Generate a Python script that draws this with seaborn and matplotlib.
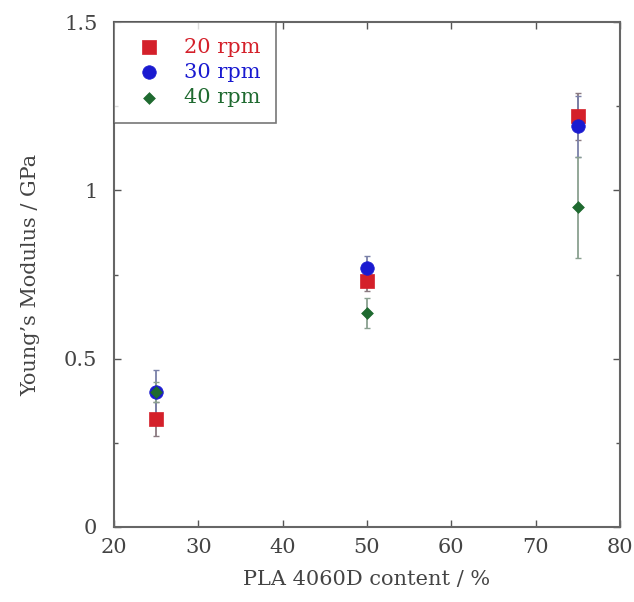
import matplotlib
matplotlib.use("Agg")
import matplotlib.pyplot as plt
import seaborn as sns
import pandas as pd
from matplotlib.ticker import MultipleLocator

sns.set_theme(style="white")
plt.rcParams["font.family"] = ["DejaVu Serif", "Liberation Serif"]

content = [25, 50, 75]
series = ["20 rpm", "30 rpm", "40 rpm"]
modulus_20 = [0.32, 0.73, 1.22]
err_20 = [0.05, 0.03, 0.07]
modulus_30 = [0.40, 0.77, 1.19]
err_30 = [0.065, 0.035, 0.09]
modulus_40 = [0.40, 0.635, 0.95]
err_40 = [0.03, 0.045, 0.15]

colors = {"20 rpm": "#d4202a", "30 rpm": "#1a1ad0", "40 rpm": "#1f6a30"}
err_colors = {"20 rpm": "#8a7a80", "30 rpm": "#7a80a8", "40 rpm": "#8aa090"}
markers = {"20 rpm": "s", "30 rpm": "o", "40 rpm": "D"}
sizes = {"20 rpm": 90, "30 rpm": 95, "40 rpm": 36}

df = pd.DataFrame({
    "content": content * 3,
    "modulus": modulus_20 + modulus_30 + modulus_40,
    "err": err_20 + err_30 + err_40,
    "speed": [s for s in series for _ in content],
})

fig = plt.figure(figsize=(6.34, 6.02), dpi=100)
ax = fig.add_axes([114 / 634, 1 - 527 / 602, (620 - 114) / 634, (527 - 22) / 602])

for s in series:
    sub = df[df["speed"] == s]
    ax.errorbar(sub["content"], sub["modulus"], yerr=sub["err"], fmt="none",
                ecolor=err_colors[s], elinewidth=1.3, capsize=2.5, capthick=1.0, zorder=2)

for s in series:
    sub = df[df["speed"] == s]
    sns.scatterplot(data=sub, x="content", y="modulus", ax=ax, marker=markers[s],
                    color=colors[s], s=sizes[s], edgecolor=colors[s], linewidth=0.5,
                    label=s, zorder=3)

ax.set_xlim(20, 80)
ax.set_ylim(0, 1.5)
ax.xaxis.set_major_locator(MultipleLocator(10))
ax.yaxis.set_minor_locator(MultipleLocator(0.25))
ax.set_yticks([0, 0.5, 1, 1.5])
ax.set_yticklabels(["0", "0.5", "1", "1.5"])
ax.tick_params(which="both", direction="in", top=True, right=True, left=True, bottom=True,
               colors="#555555", labelcolor="#444444", labelsize=15)
ax.tick_params(axis="y", which="major", pad=12)
ax.tick_params(axis="x", which="major", pad=8)
ax.tick_params(which="major", length=5, width=1)
ax.tick_params(which="minor", length=3, width=1)
for sp in ax.spines.values():
    sp.set_color("#666666")
    sp.set_linewidth(1.5)

ax.set_xlabel("PLA 4060D content / %", fontsize=15, color="#444444", labelpad=9)
ax.set_ylabel("Young\u2019s Modulus / GPa", fontsize=15, color="#444444", labelpad=17)

leg = ax.legend(loc="upper left", borderaxespad=0, frameon=True, fancybox=False,
                fontsize=15, handletextpad=0.7, borderpad=0.75, labelspacing=0.3,
                handlelength=1.9, edgecolor="#555555")
leg.get_frame().set_linewidth(1.2)
for txt, s in zip(leg.get_texts(), series):
    txt.set_color(colors[s])

fig.savefig("out.png", dpi=100)
